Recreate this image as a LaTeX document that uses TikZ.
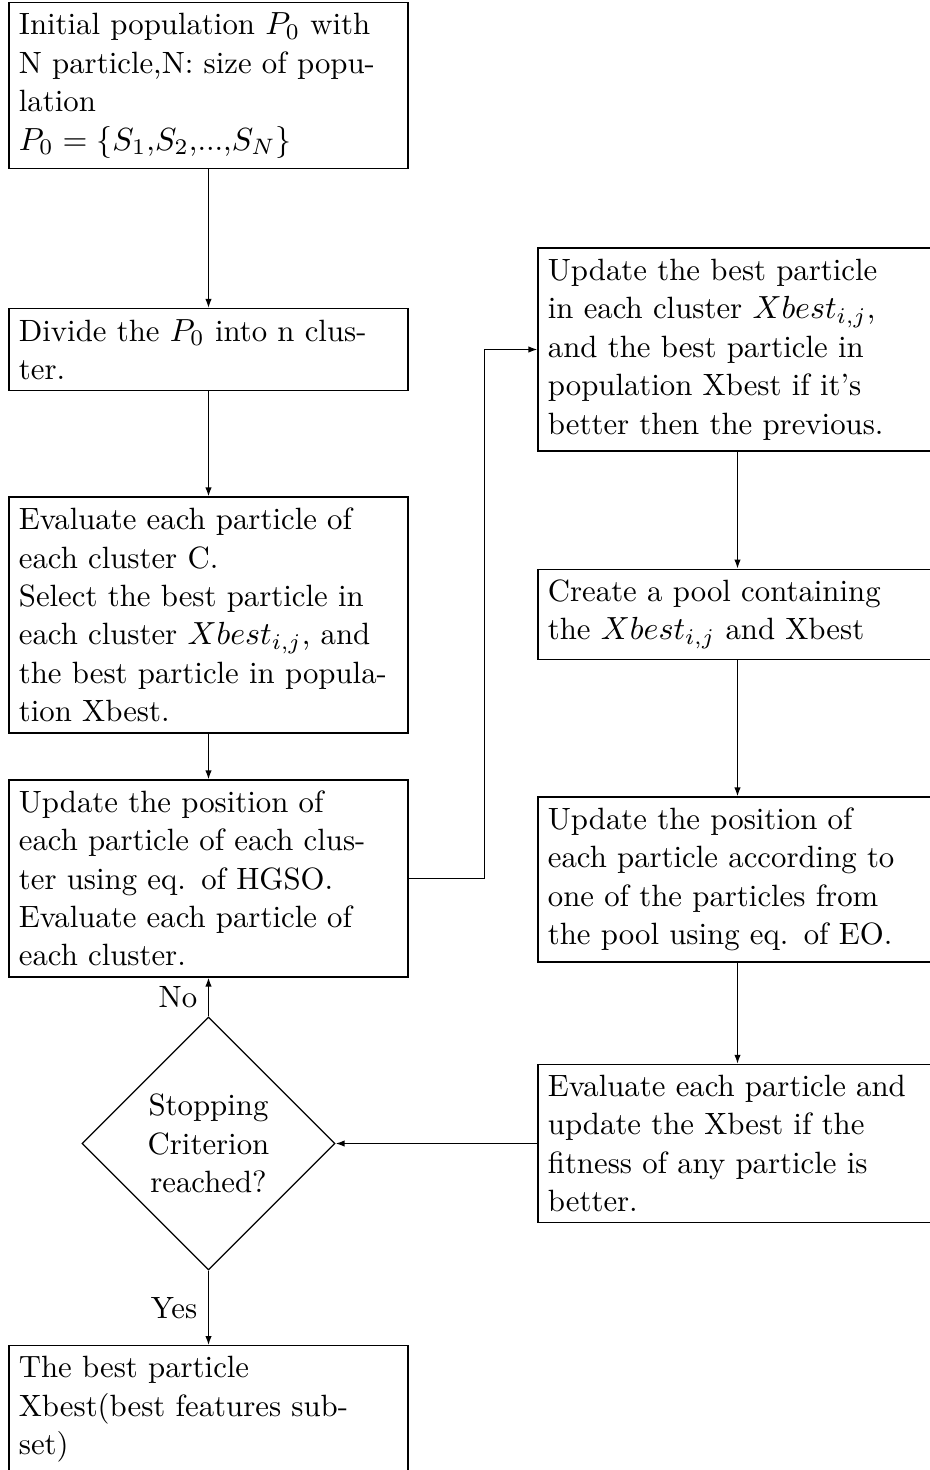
\documentclass[tikz,border=0pt]{standalone}
\usetikzlibrary{shapes.geometric,arrows.meta}
\tikzset{
  every node/.style={font=\fontsize{9.62}{12}\selectfont},
  box/.style={draw, rectangle, text width=118.5pt, align=left, inner xsep=3.08pt, inner ysep=3.33pt},
  decision/.style={draw, diamond, align=center, inner sep=0pt, minimum width=79.06pt, minimum height=79.06pt},
  arr/.style={-{Latex[length=2.8pt,width=2pt]}},
  lbl/.style={inner sep=3.33pt}
}
\begin{document}
\begin{tikzpicture}[x=0.3125pt,y=-0.3125pt]
\useasboundingbox (0,0) rectangle (930,1470);
\clip (0,0) rectangle (930,1470);
% left column
\node[box, minimum height=50.94pt] (n1) at (208.5,85.5)
  {Initial population $P_0$ with\\ N particle,N: size of popu-\\lation\\ $P_0=\{S_1$,$S_2$,...,$S_N\}$};
\node[box, minimum height=24.69pt] (n2) at (208.5,349.5)
  {Divide the $P_0$ into n clus-\\ter.};
\node[box, minimum height=73.75pt] (n3) at (208.5,615)
  {Evaluate each particle of\\ each cluster C.\\ Select the best particle in\\ each cluster $Xbest_{i,j}$, and\\ \mbox{the best particle in popula-}\\tion Xbest.};
\node[box, minimum height=60.94pt] (n4) at (208.5,878.5)
  {Update the position of\\ each particle of each clus-\\ter using eq. of HGSO.\\ Evaluate each particle of\\ each cluster.};
\node[decision] (d) at (208.5,1143.5) {Stopping\\ Criterion\\ reached?};
\node[box, anchor=north] (n5) at (208.5,1345)
  {The best particle\\ Xbest(best features sub-\\set)};
% right column
\node[box, minimum height=63.44pt] (r1) at (737.5,349.5)
  {Update the best particle\\ in each cluster $Xbest_{i,j}$,\\ and the best particle in\\ population Xbest if it's\\ better then the previous.};
\node[box, minimum height=27.81pt] (r2) at (737.5,614.5)
  {Create a pool containing\\ the $Xbest_{i,j}$ and Xbest};
\node[box, minimum height=51.56pt] (r3) at (737.5,879.5)
  {Update the position of\\ each particle according to\\ one of the particles from\\ the pool using eq. of EO.};
\node[box, minimum height=49.06pt] (r4) at (737.5,1143.5)
  {Evaluate each particle and\\ update the Xbest if the\\ fitness of any particle is\\ better.};
% connectors
\draw[arr] (n1) -- (n2);
\draw[arr] (n2) -- (n3);
\draw[arr] (n3) -- (n4);
\draw[arr] (d) -- node[lbl, left] {No} (n4);
\draw[arr] (d) -- node[lbl, left] {Yes} (n5);
\draw[arr] (n4.east) -- ++(76,0) |- (r1.west);
\draw[arr] (r1) -- (r2);
\draw[arr] (r2) -- (r3);
\draw[arr] (r3) -- (r4);
\draw[arr] (r4) -- (d);
\end{tikzpicture}
\end{document}
